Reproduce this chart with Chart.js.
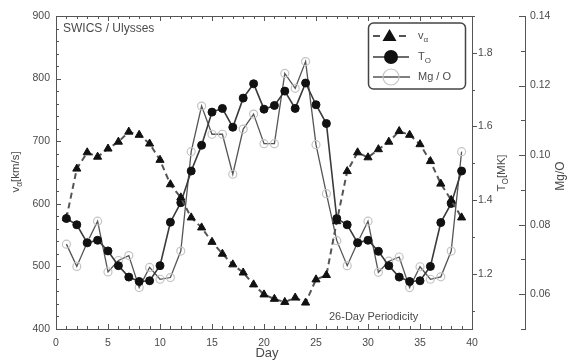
<!DOCTYPE html>
<html>
<head>
<meta charset="utf-8">
<script src="https://cdn.jsdelivr.net/npm/chart.js@4.4.1/dist/chart.umd.min.js"></script>
<style>
  html, body { margin: 0; padding: 0; background: #fff; }
  #wrap { width: 576px; height: 361px; }
</style>
</head>
<body>
<div id="wrap"><canvas id="chart" width="576" height="361"></canvas></div>
<script>
// values (days 1..39)
const days = [1, 2, 3, 4, 5, 6, 7, 8, 9, 10, 11, 12, 13, 14, 15, 16, 17, 18, 19, 20,
  21, 22, 23, 24, 25, 26, 27, 28, 29, 30, 31, 32, 33, 34, 35, 36, 37, 38, 39];
const vAlpha = [577, 656, 682, 675, 688, 699, 715, 710, 696, 670, 631, 610, 578, 562, 539, 520, 503, 490, 471, 455,
  448, 443, 450, 442, 479, 486, 572, 652, 682, 674, 687, 699, 716, 710, 695, 668, 632, 606, 578];
const tempO = [1.350, 1.333, 1.284, 1.291, 1.262, 1.222, 1.191, 1.179, 1.181, 1.222, 1.340, 1.393, 1.479, 1.549,
  1.639, 1.649, 1.598, 1.677, 1.716, 1.647, 1.657, 1.696, 1.649, 1.718, 1.659, 1.608, 1.350, 1.333, 1.284,
  1.291, 1.261, 1.222, 1.191, 1.179, 1.181, 1.220, 1.339, 1.391, 1.479];
const mgO = [0.0744, 0.0680, 0.0749, 0.0810, 0.0664, 0.0697, 0.0711, 0.0619, 0.0677, 0.0643, 0.0648, 0.0724,
  0.1010, 0.1141, 0.1060, 0.1060, 0.0945, 0.1075, 0.1118, 0.1033, 0.1033, 0.1235, 0.1192, 0.1269, 0.1030,
  0.0889, 0.0754, 0.0682, 0.0749, 0.0810, 0.0663, 0.0695, 0.0707, 0.0619, 0.0679, 0.0643, 0.0650, 0.0724, 0.1010];

// tick labels
const dayTicks = [0, 5, 10, 15, 20, 25, 30, 35, 40];
const vTicks = [400, 500, 600, 700, 800, 900];
const tTicks = [1.2, 1.4, 1.6, 1.8];
const mgTicks = [0.06, 0.08, 0.10, 0.12, 0.14];

const FONT = "Arial, 'Liberation Sans', sans-serif";
const TXT = "#4a4a4a";
const AXIS = "#555";

const toPoints = (vals) => days.map((d, i) => ({ x: d, y: vals[i] }));
const setTicks = (list) => (scale) => { scale.ticks = list.map((v) => ({ value: v })); };

// draw text with a subscript part, optionally rotated
function richText(ctx, parts, cx, cy, size, rotate) {
  ctx.save();
  ctx.translate(cx, cy);
  if (rotate) ctx.rotate(-Math.PI / 2);
  let total = 0;
  parts.forEach((p) => {
    ctx.font = (p.sub ? size * 0.72 : size) + "px " + FONT;
    total += ctx.measureText(p.t).width;
  });
  let x = -total / 2;
  ctx.textBaseline = "middle";
  ctx.textAlign = "left";
  parts.forEach((p) => {
    ctx.font = (p.sub ? size * 0.72 : size) + "px " + FONT;
    ctx.fillText(p.t, x, p.sub ? size * 0.3 : 0);
    x += ctx.measureText(p.t).width;
  });
  ctx.restore();
}

const extras = {
  id: "extras",
  afterDraw(chart) {
    const { ctx, chartArea: { left, right, top, bottom }, scales: { x, y, y1, y2 } } = chart;
    ctx.save();
    ctx.strokeStyle = AXIS;
    ctx.lineWidth = 1;
    const line = (a, b, c, d) => { ctx.beginPath(); ctx.moveTo(a, b); ctx.lineTo(c, d); ctx.stroke(); };

    // top frame
    line(left, Math.round(top) + 0.5, right, Math.round(top) + 0.5);

    // day ticks, top and bottom, pointing inward
    for (let d = x.min; d <= x.max; d++) {
      const px = Math.round(x.getPixelForValue(d)) + 0.5;
      const len = d % 5 === 0 ? 5 : 3;
      line(px, bottom, px, bottom - len);
      line(px, top, px, top + len);
    }
    // left axis ticks every 20 km/s
    for (let v = y.min; v <= y.max; v += 20) {
      const py = Math.round(y.getPixelForValue(v)) + 0.5;
      line(left, py, left + (v % 100 === 0 ? 5 : 3), py);
    }
    // T_O ticks, outward
    for (let k = 11; k <= 19; k++) {
      const py = Math.round(y1.getPixelForValue(k / 10)) + 0.5;
      line(right, py, right + (k % 2 === 0 ? 5 : 3), py);
    }
    // Mg/O ticks, pointing left
    for (let k = 5; k <= 14; k++) {
      const py = Math.round(y2.getPixelForValue(k / 100)) + 0.5;
      line(y2.left, py, y2.left - (k % 2 === 0 ? 6 : 4), py);
    }

    // titles and notes
    ctx.fillStyle = TXT;
    richText(ctx, [{ t: "v" }, { t: "\u03b1", sub: true }, { t: "[km/s]" }], 16, 172, 11.5, true);
    richText(ctx, [{ t: "T" }, { t: "O", sub: true }, { t: "[MK]" }], 502, 173, 11.5, true);
    richText(ctx, [{ t: "Mg/O" }], 561, 176, 12, true);
    richText(ctx, [{ t: "Day" }], 267, 353, 13, false);
    ctx.font = "12px " + FONT;
    ctx.textAlign = "left";
    ctx.textBaseline = "middle";
    ctx.fillText("SWICS / Ulysses", 63, 29);
    ctx.font = "11px " + FONT;
    ctx.fillText("26-Day Periodicity", 329, 317);

    // legend box
    const ds = chart.data.datasets;
    ctx.strokeStyle = "#444";
    ctx.lineWidth = 1.5;
    ctx.beginPath();
    ctx.roundRect(368.5, 23, 97, 66, 5);
    ctx.stroke();
    const rows = [36, 57, 77];
    // v_alpha sample
    ctx.strokeStyle = ds[0].borderColor;
    ctx.lineWidth = ds[0].borderWidth;
    line(373, rows[0], 380, rows[0]);
    line(399, rows[0], 406, rows[0]);
    ctx.fillStyle = ds[0].pointBackgroundColor;
    ctx.beginPath();
    ctx.moveTo(389.5, rows[0] - 7);
    ctx.lineTo(396.5, rows[0] + 5);
    ctx.lineTo(382.5, rows[0] + 5);
    ctx.closePath();
    ctx.fill();
    // T_O sample
    ctx.strokeStyle = ds[1].borderColor;
    ctx.lineWidth = ds[1].borderWidth;
    line(373, rows[1], 409, rows[1]);
    ctx.fillStyle = ds[1].pointBackgroundColor;
    ctx.beginPath();
    ctx.arc(391, rows[1], 7, 0, Math.PI * 2);
    ctx.fill();
    // Mg/O sample
    ctx.strokeStyle = ds[2].borderColor;
    ctx.lineWidth = ds[2].borderWidth;
    line(373, rows[2], 410, rows[2]);
    ctx.strokeStyle = ds[2].pointBorderColor;
    ctx.lineWidth = 1.2;
    ctx.beginPath();
    ctx.arc(391, rows[2], 8, 0, Math.PI * 2);
    ctx.stroke();

    ctx.fillStyle = TXT;
    const lx = 418;
    ctx.font = "11px " + FONT;
    ctx.textAlign = "left";
    const vW = ctx.measureText("v").width;
    const tW = ctx.measureText("T").width;
    ctx.fillText("v", lx, rows[0]);
    ctx.fillText("T", lx, rows[1]);
    ctx.fillText("Mg / O", lx, rows[2]);
    ctx.font = "8px " + FONT;
    ctx.fillText("\u03b1", lx + vW, rows[0] + 4);
    ctx.fillText("O", lx + tW, rows[1] + 4);
    ctx.restore();
  },
};

const tickFont = { family: FONT, size: 10.5 };

new Chart(document.getElementById("chart"), {
  type: "line",
  data: {
    datasets: [
      {
        label: "v\u03b1",
        data: toPoints(vAlpha),
        yAxisID: "y",
        borderColor: "#555",
        borderWidth: 2,
        borderDash: [6, 4],
        pointStyle: "triangle",
        pointRadius: 4.7,
        pointBackgroundColor: "#111",
        pointBorderColor: "#111",
        pointBorderWidth: 1,
        tension: 0,
      },
      {
        label: "TO",
        data: toPoints(tempO),
        yAxisID: "y1",
        borderColor: "#3a3a3a",
        borderWidth: 1.6,
        pointStyle: "circle",
        pointRadius: 4,
        pointBackgroundColor: "#111",
        pointBorderColor: "#111",
        pointBorderWidth: 1,
        tension: 0,
      },
      {
        label: "Mg / O",
        data: toPoints(mgO),
        yAxisID: "y2",
        borderColor: "#555",
        borderWidth: 1.3,
        pointStyle: "circle",
        pointRadius: 4,
        pointBackgroundColor: "rgba(255,255,255,0)",
        pointBorderColor: "#c4c4c4",
        pointBorderWidth: 1.2,
        tension: 0,
      },
    ],
  },
  options: {
    responsive: false,
    animation: false,
    devicePixelRatio: 1,
    layout: { padding: { top: 16, right: 0, bottom: 0, left: 0 } },
    plugins: { legend: { display: false }, tooltip: { enabled: false } },
    scales: {
      x: {
        type: "linear",
        position: "bottom",
        min: 0,
        max: 40,
        afterBuildTicks: setTicks(dayTicks),
        grid: { display: false, drawTicks: false },
        border: { display: true, color: AXIS, width: 1 },
        ticks: { color: TXT, font: tickFont, padding: 8, maxRotation: 0 },
        afterFit: (s) => { s.height = 32; },
      },
      y: {
        position: "left",
        min: 400,
        max: 900,
        afterBuildTicks: setTicks(vTicks),
        grid: { display: false, drawTicks: false },
        border: { display: true, color: AXIS, width: 1 },
        ticks: { color: TXT, font: tickFont, padding: 6 },
        afterFit: (s) => { s.width = 56; },
      },
      y1: {
        position: "right",
        min: 1.05,
        max: 1.9,
        afterBuildTicks: setTicks(tTicks),
        grid: { display: false, drawTicks: false },
        border: { display: true, color: AXIS, width: 1 },
        ticks: { color: TXT, font: tickFont, padding: 6, callback: (v) => v.toFixed(1) },
        afterFit: (s) => { s.width = 53; },
      },
      y2: {
        position: "right",
        min: 0.05,
        max: 0.14,
        afterBuildTicks: setTicks(mgTicks),
        grid: { display: false, drawTicks: false },
        border: { display: true, color: AXIS, width: 1 },
        ticks: { color: TXT, font: tickFont, padding: 5, callback: (v) => v.toFixed(2) },
        afterFit: (s) => { s.width = 51; },
      },
    },
  },
  plugins: [extras],
});
</script>
</body>
</html>
